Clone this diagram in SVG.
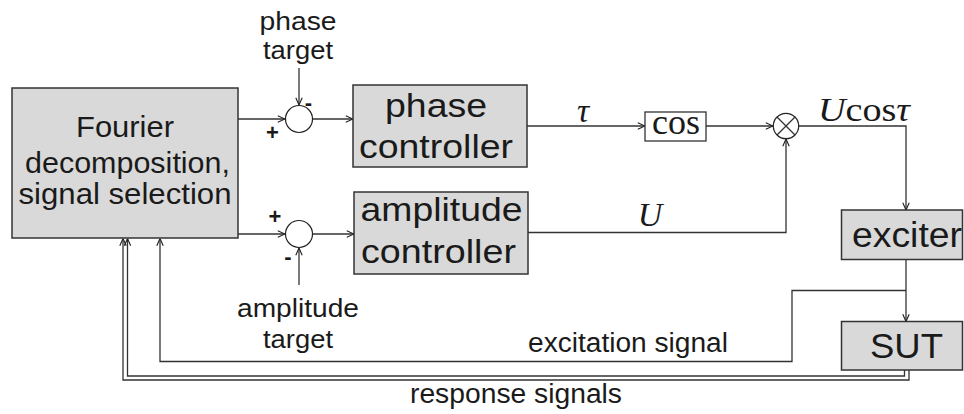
<svg xmlns="http://www.w3.org/2000/svg" width="964" height="414" viewBox="0 0 964 414">
<style>
.box{fill:#d9d9d9;stroke:#333;stroke-width:1.5}
.wbox{fill:#fff;stroke:#333;stroke-width:1.3}
.sum{fill:#fff;stroke:#222;stroke-width:1.2}
.ln{fill:none;stroke:#333;stroke-width:1.3}
.arr{fill:none;stroke:#333;stroke-width:1.3;marker-end:url(#ah)}
.t{font-family:"Liberation Sans",Arial,sans-serif;fill:#1a1a1a;text-anchor:middle}
.m{font-family:"Liberation Serif","Times New Roman",serif;fill:#1a1a1a}
.sg{font-family:"Liberation Sans",Arial,sans-serif;font-weight:bold;font-size:22px;fill:#1a1a1a;text-anchor:middle}
</style>
<defs>
<marker id="ah" viewBox="0 0 10 10" refX="10" refY="5" markerWidth="8" markerHeight="8" markerUnits="userSpaceOnUse" orient="auto">
<path d="M1,1 L10,5 L1,9" fill="none" stroke="#222" stroke-width="1.4"/>
</marker>
</defs>

<g id="connectors">
<path class="arr" d="M238,119 H285"/>
<path class="arr" d="M299,68 V105"/>
<path class="arr" d="M313,119 H353"/>
<path class="arr" d="M527,126 H645"/>
<path class="arr" d="M706,126 H773"/>
<path class="arr" d="M799,126 H906 V210"/>
<path class="arr" d="M238,234 H285"/>
<path class="arr" d="M299,285 V248"/>
<path class="arr" d="M313,234 H354"/>
<path class="arr" d="M528,232.5 H786 V139"/>
<path class="arr" d="M906,259.5 V321.5"/>
<path class="arr" d="M906,290.5 H792 V361.5 H160 V238.5"/>
<path class="arr" d="M904.5,370 V376 H127.5 V238.5"/>
<path class="arr" d="M909,370 V380 H123 V238.5"/>
</g>

<g id="fourier">
<rect class="box" x="12" y="88" width="226" height="150"/>
<text class="t" font-size="30" x="125" y="137" textLength="98" lengthAdjust="spacingAndGlyphs">Fourier</text>
<text class="t" font-size="30" x="127.5" y="173" textLength="205" lengthAdjust="spacingAndGlyphs">decomposition,</text>
<text class="t" font-size="30" x="125" y="204" textLength="213" lengthAdjust="spacingAndGlyphs">signal selection</text>
</g>

<g id="phase-target">
<text class="t" font-size="26" x="298" y="30" textLength="77" lengthAdjust="spacingAndGlyphs">phase</text>
<text class="t" font-size="26" x="298" y="59" textLength="70" lengthAdjust="spacingAndGlyphs">target</text>
</g>

<g id="sum-phase">
<circle class="sum" cx="299" cy="119" r="13.5"/>
<text class="sg" x="272.5" y="140">+</text>
<text class="sg" x="308.5" y="110">-</text>
</g>

<g id="sum-amplitude">
<circle class="sum" cx="299" cy="234" r="13.5"/>
<text class="sg" x="275" y="224">+</text>
<text class="sg" x="288" y="264">-</text>
</g>

<g id="amplitude-target">
<text class="t" font-size="26" x="298" y="317" textLength="122" lengthAdjust="spacingAndGlyphs">amplitude</text>
<text class="t" font-size="26" x="298" y="348" textLength="70" lengthAdjust="spacingAndGlyphs">target</text>
</g>

<g id="phase-controller">
<rect class="box" x="353" y="85" width="174" height="82"/>
<text class="t" font-size="33" x="436" y="117" textLength="102" lengthAdjust="spacingAndGlyphs">phase</text>
<text class="t" font-size="33" x="436" y="158" textLength="154" lengthAdjust="spacingAndGlyphs">controller</text>
</g>

<g id="amplitude-controller">
<rect class="box" x="354" y="192" width="174" height="82"/>
<text class="t" font-size="33" x="441.5" y="221" textLength="162" lengthAdjust="spacingAndGlyphs">amplitude</text>
<text class="t" font-size="33" x="438.5" y="263" textLength="155" lengthAdjust="spacingAndGlyphs">controller</text>
</g>

<g id="tau-label">
<text class="m" font-size="34" font-style="italic" x="583" y="122" text-anchor="middle">τ</text>
</g>

<g id="cos">
<rect class="wbox" x="645" y="112" width="61" height="29"/>
<text class="m" font-size="35" x="676" y="134" text-anchor="middle" textLength="48" lengthAdjust="spacingAndGlyphs">cos</text>
</g>

<g id="u-label">
<text class="m" font-size="34" font-style="italic" x="650" y="226" text-anchor="middle">U</text>
</g>

<g id="multiplier">
<circle class="sum" cx="786" cy="126" r="12.7"/>
<path class="ln" d="M777,117 L795,135 M795,117 L777,135"/>
</g>

<g id="ucos-label">
<text class="m" font-size="34" x="818" y="121" textLength="92" lengthAdjust="spacingAndGlyphs"><tspan font-style="italic">U</tspan>cos<tspan font-style="italic">τ</tspan></text>
</g>

<g id="exciter">
<rect class="box" x="841.5" y="210" width="121" height="49.5"/>
<text class="t" font-size="35" x="907" y="247" textLength="110" lengthAdjust="spacingAndGlyphs">exciter</text>
</g>

<g id="sut">
<rect class="box" x="841.5" y="321.5" width="121" height="48.5"/>
<text class="t" font-size="35" x="906.5" y="358" textLength="73" lengthAdjust="spacingAndGlyphs">SUT</text>
</g>

<g id="labels">
<text class="t" font-size="27" x="628" y="352" textLength="200" lengthAdjust="spacingAndGlyphs">excitation signal</text>
<text class="t" font-size="27" x="516" y="403" textLength="212" lengthAdjust="spacingAndGlyphs">response signals</text>
</g>
</svg>
